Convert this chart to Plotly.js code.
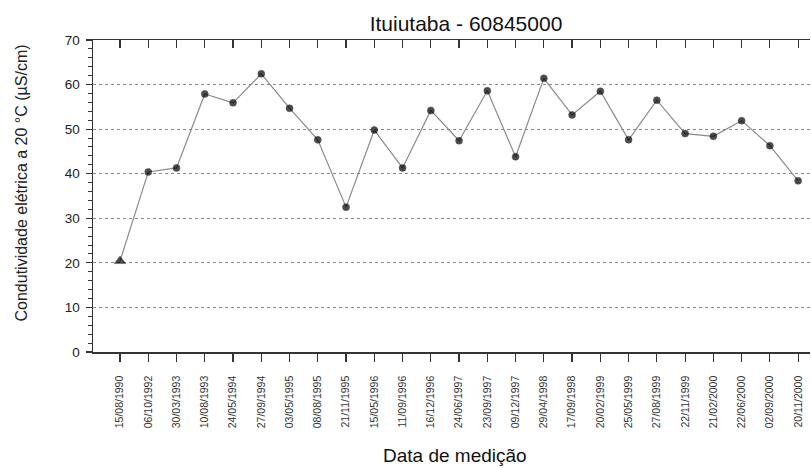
<!DOCTYPE html>
<html>
<head>
<meta charset="utf-8">
<script src="https://cdn.plot.ly/plotly-3.0.1.min.js"></script>
<style>html,body{margin:0;padding:0;background:#fff;}#chart{width:811px;height:468px;}</style>
</head>
<body>
<div id="chart"></div>
<script>
const dates = ["15/08/1990","06/10/1992","30/03/1993","10/08/1993","24/05/1994","27/09/1994","03/05/1995","08/08/1995","21/11/1995","15/05/1996","11/09/1996","16/12/1996","24/06/1997","23/09/1997","09/12/1997","29/04/1998","17/09/1998","20/02/1999","25/05/1999","27/08/1999","22/11/1999","21/02/2000","22/06/2000","02/09/2000","20/11/2000"];
const conductivity = [20.4,40.4,41.3,57.9,55.9,62.4,54.7,47.6,32.5,49.8,41.3,54.2,47.4,58.6,43.8,61.4,53.2,58.5,47.6,56.5,49.0,48.4,51.9,46.3,38.4];
const markerSymbols = dates.map((d,i)=> i===0 ? "triangle-up" : "circle");

const traces = [{
  x: dates, y: conductivity, type: "scatter", mode: "lines+markers",
  line: {color: "#8a8a8a", width: 1.2},
  marker: {color: "#000", size: dates.map((d,i)=> i===0 ? 10 : 7), symbol: markerSymbols,
           line: {color: "#000", width: 0.5}},
  showlegend: false, hoverinfo: "x+y"
},{
  x: dates, y: conductivity, xaxis: "x2", yaxis: "y", type: "scatter", mode: "none",
  showlegend: false, hoverinfo: "skip"
}];

const L = 93, T = 40, W = 717, H = 312;
const px = v => (v - L) / W;
const py = v => (T + H - v) / H;
const xr = [-0.956, 24.42];
const layout = {
  width: 811, height: 468,
  margin: {l: L, r: 1, t: T, b: 468 - T - H},
  paper_bgcolor: "#fff", plot_bgcolor: "#fff",
  font: {family: "Arial, Liberation Sans, sans-serif", color: "#222"},
  title: {text: "Ituiutaba - 60845000", xref: "container", yref: "container",
          x: 466/811, xanchor: "center", y: 1 - 24/468, yanchor: "middle",
          font: {size: 21, color: "#111"}},
  annotations: [{
    text: "Data de medição", xref: "paper", yref: "paper",
    x: px(455), y: py(455), xanchor: "center", yanchor: "middle",
    showarrow: false, font: {size: 19, color: "#111"}
  },{
    text: "Condutividade elétrica a 20 °C (µS/cm)", xref: "paper", yref: "paper",
    x: px(20.5), y: py(183), xanchor: "center", yanchor: "middle", textangle: -90,
    showarrow: false, font: {size: 16, color: "#222"}
  }],
  xaxis: {
    type: "category", range: xr, showgrid: false, zeroline: false,
    showline: true, linecolor: "#333", linewidth: 1.5,
    ticks: "outside", ticklen: 8, tickwidth: 1.2, tickcolor: "#333",
    tickangle: -90, tickfont: {size: 10.5, color: "#333"}, ticklabelstandoff: 10
  },
  xaxis2: {
    type: "category", range: xr, overlaying: "x", side: "top", anchor: "y",
    showgrid: false, zeroline: false, showticklabels: false,
    showline: true, linecolor: "#333", linewidth: 1.5,
    ticks: "inside", ticklen: 8, tickwidth: 1.2, tickcolor: "#333"
  },
  yaxis: {
    range: [0, 70], dtick: 10, zeroline: false,
    showgrid: true, gridcolor: "#888", griddash: "dot", gridwidth: 1,
    showline: true, linecolor: "#333", linewidth: 1.5,
    ticks: "outside", ticklen: 6, tickwidth: 1.2, tickcolor: "#333",
    minor: {dtick: 2, ticks: "outside", ticklen: 4, tickcolor: "#333", tickwidth: 1, showgrid: false},
    tickfont: {size: 13.5, color: "#222"}, ticklabelstandoff: 3
  }
};
Plotly.newPlot("chart", traces, layout, {displayModeBar: false, staticPlot: true});
</script>
</body>
</html>
